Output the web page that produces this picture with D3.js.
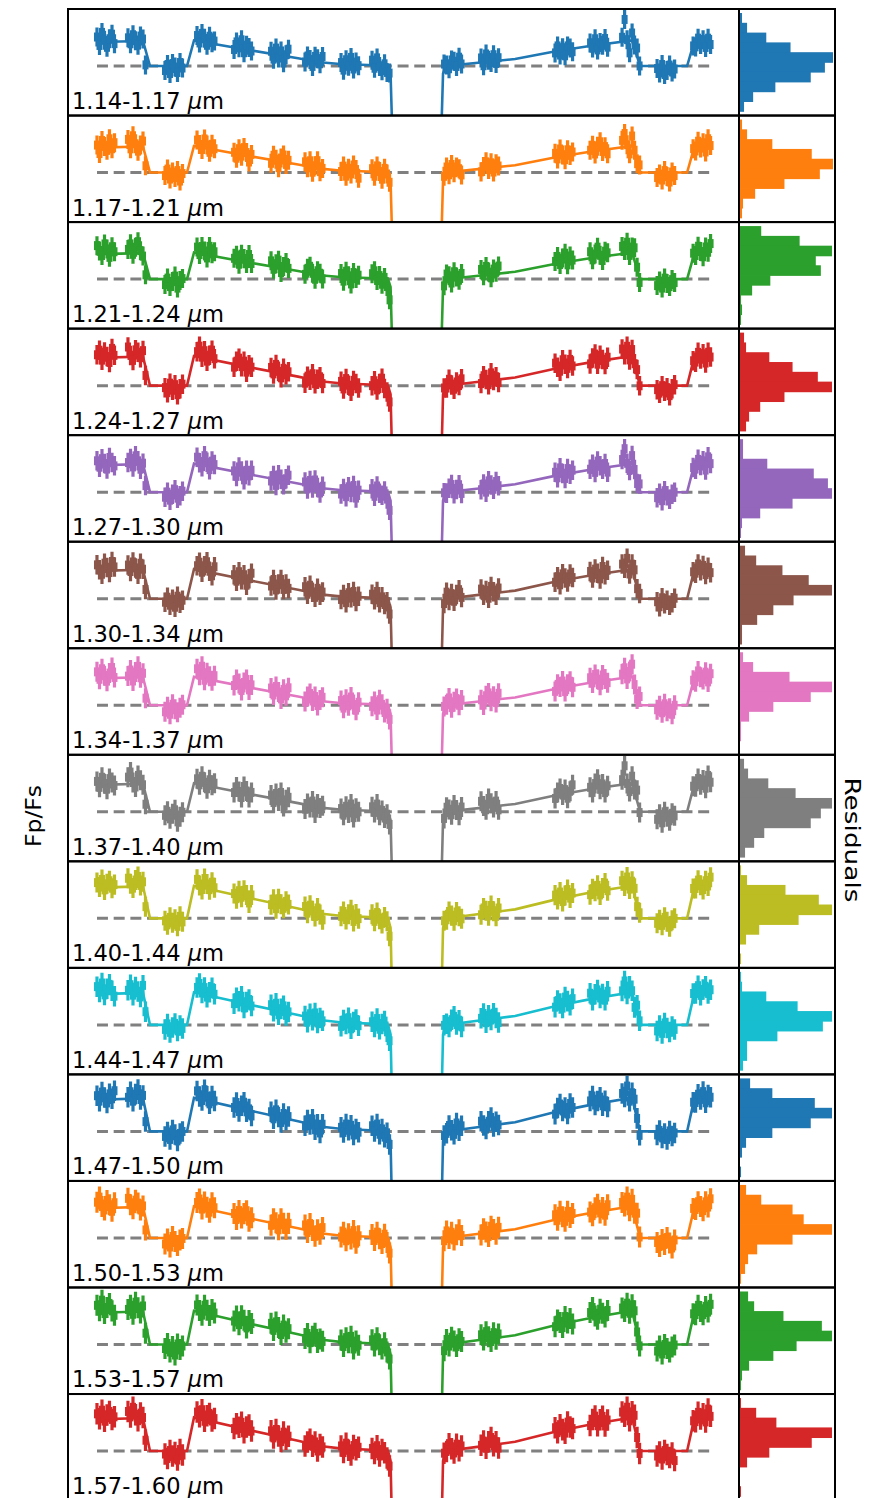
<!DOCTYPE html>
<html>
<head>
<meta charset="utf-8">
<script src="https://d3js.org/d3.v7.min.js"></script>
<style>
  body { margin: 0; background: #fff; }
  text { font-family: "DejaVu Sans", sans-serif; fill: #000; }
</style>
</head>
<body>
<svg id="fig" width="877" height="1498"></svg>
<script>
  // wavelength bins, one row each
  var bands = ["1.14-1.17", "1.17-1.21", "1.21-1.24", "1.24-1.27", "1.27-1.30", "1.30-1.34", "1.34-1.37",
               "1.37-1.40", "1.40-1.44", "1.44-1.47", "1.47-1.50", "1.50-1.53", "1.53-1.57", "1.57-1.60"]
  var colors = ["#1f77b4", "#ff7f0e", "#2ca02c", "#d62728", "#9467bd", "#8c564b", "#e377c2",
                "#7f7f7f", "#bcbd22", "#17becf", "#1f77b4", "#ff7f0e", "#2ca02c", "#d62728"]
  // eclipse depth per row (ppm) and error bar size (ppm)
  var depths = [100, 104, 104, 116, 112, 116, 112, 112, 128, 128, 132, 124, 132, 132]
  var errs   = [38, 38, 38, 39, 39, 39, 40, 40, 40, 41, 41, 42, 42, 43]

  // orbital phase of each exposure (16 visible orbits x 8 exposures)
  var times = [
    0.3558, 0.3609, 0.3659, 0.3710, 0.3760, 0.3810, 0.3861, 0.3911,
    0.4183, 0.4234, 0.4284, 0.4335, 0.4385, 0.4435, 0.4486, 0.4536,
    0.4929, 0.4980, 0.5030, 0.5081, 0.5131, 0.5181, 0.5232, 0.5282,
    0.5575, 0.5625, 0.5675, 0.5726, 0.5776, 0.5827, 0.5877, 0.5927,
    0.6321, 0.6371, 0.6421, 0.6472, 0.6522, 0.6573, 0.6623, 0.6673,
    0.7067, 0.7117, 0.7167, 0.7218, 0.7268, 0.7319, 0.7369, 0.7419,
    0.7752, 0.7802, 0.7853, 0.7903, 0.7954, 0.8004, 0.8054, 0.8105,
    0.8478, 0.8528, 0.8579, 0.8629, 0.8679, 0.8730, 0.8780, 0.8831,
    0.9103, 0.9153, 0.9204, 0.9254, 0.9304, 0.9355, 0.9405, 0.9456,
    1.0554, 1.0605, 1.0655, 1.0706, 1.0756, 1.0806, 1.0857, 1.0907,
    1.1300, 1.1351, 1.1401, 1.1452, 1.1502, 1.1552, 1.1603, 1.1653,
    1.2792, 1.2843, 1.2893, 1.2944, 1.2994, 1.3044, 1.3095, 1.3145,
    1.3498, 1.3548, 1.3599, 1.3649, 1.3700, 1.3750, 1.3800, 1.3851,
    1.4143, 1.4194, 1.4244, 1.4294, 1.4345, 1.4395, 1.4446, 1.4496,
    1.4849, 1.4899, 1.4950, 1.5000, 1.5050, 1.5101, 1.5151, 1.5202,
    1.5575, 1.5625, 1.5675, 1.5726, 1.5776, 1.5827, 1.5877, 1.5927]

  // model knots: phase and planet flux as a fraction of the eclipse depth
  var modelPhase = [0.3558, 0.4486, 0.4627, 0.5373, 0.5514, 0.6643, 0.7611, 0.8054, 0.8458, 0.9163,
                    0.9425, 0.9476, 0.9516, 0.9546, 1.0454, 1.0494, 1.0534, 1.0595, 1.1341, 1.1986,
                    1.2833, 1.3558, 1.4345, 1.4506, 1.5454, 1.5595, 1.5917]
  var modelShape = [0.96, 1.0, 0, 0, 1.02, 0.63, 0.31, 0.15, 0.08, 0.03,
                    0, -0.3, -3, -10, -10, -3, -0.3, 0, 0.15, 0.28,
                    0.6, 0.82, 1.02, 0, 0, 0.96, 1.02]

  // residuals (ppm), same exposure order as times
  var residuals = [
    [20,-14,38,6,-22,12,30,-8, 14,-10,26,2,-16,20,8,-60, -18,6,-30,10,-4,-26,14,-8, 22,-6,34,16,-10,28,4,12, -8,24,2,36,-14,18,10,-2, 10,-20,26,-12,18,-28,6,30, -10,16,4,-22,20,12,-6,24, 6,-24,18,-8,28,-18,10,-4, 20,-12,30,-4,-20,8,-26,-10, 28,4,-12,22,16,-6,30,2, 18,-14,32,6,-4,26,-10,12, -6,20,-18,10,-24,14,4,-12, 12,-10,26,-20,8,-4,22,-14, 18,88,6,-48,30,14,34,-6, -10,-28,6,-34,-18,4,-24,-12, -2,-20,14,-12,6,-26,10,-16],
    [10,-24,28,4,-12,34,-6,18, 30,-8,44,12,-18,6,22,-40, -12,14,-26,2,-20,8,-34,-4, 26,10,-8,36,14,-14,20,4, 4,-18,22,-6,30,12,-24,8, -14,20,6,-26,14,28,-8,10, 16,-6,24,-20,8,30,-12,2, -4,18,-22,10,-12,24,6,-28, 12,-18,24,2,-28,16,-6,-20, 6,22,-10,30,-4,18,10,-16, -12,8,26,-6,20,-18,14,4, 16,-8,30,4,-16,22,-2,10, 6,24,-12,18,34,-6,12,-18, 28,54,8,-30,40,16,-4,24, -20,-6,-30,8,-16,-38,2,-12, 10,-14,24,-4,16,-22,30,2],
    [34,12,-6,40,20,-14,28,8, 16,38,-4,24,46,10,-12,-50, -22,4,-30,-10,12,-36,-6,2, 24,-4,30,14,-12,36,8,18, 6,20,-14,28,12,-6,32,-2, 22,-10,14,30,-18,8,26,4, -8,18,28,2,-20,16,8,-14, 14,-16,24,6,-26,20,-4,10, 18,30,-8,12,-22,6,-30,-64, -6,20,12,-18,26,4,-10,16, 24,-2,34,10,-14,20,6,30, 10,28,-6,18,36,-12,22,4, 26,-8,14,40,6,-16,20,12, 30,12,44,-10,22,52,8,-20, -26,-8,-36,4,-18,-30,-2,-14, 18,-6,30,8,-14,24,2,36],
    [12,30,-10,22,4,-20,36,8, 40,6,-14,28,18,-4,24,-34, -8,-28,10,-18,4,-36,-12,6, 20,44,2,30,-10,16,38,6, -12,14,28,-4,20,-22,10,2, 16,-8,32,6,-18,22,-2,12, -20,10,-4,24,-14,6,18,-8, 8,-22,20,-6,-30,14,2,-16, -4,16,-20,6,28,-12,-26,-44, 14,-10,24,0,-18,10,-6,20, -8,22,6,-16,30,-2,12,-12, 22,4,-14,30,10,-8,26,-2, -6,16,30,-12,22,4,-18,10, 34,10,42,-14,26,6,20,-8, -16,-30,0,-22,-8,-40,-12,4, 4,-18,20,-8,12,-26,16,-4],
    [18,-8,26,6,-16,30,10,-4, 8,24,-10,34,14,-20,4,-46, -20,0,-32,-8,10,-24,-14,4, 28,8,-6,40,16,-12,24,12, 2,-18,22,8,-26,14,-6,18, -10,14,-24,20,4,-16,10,26, 12,-14,22,-6,28,0,-20,8, -16,6,-26,14,-8,20,-30,2, 10,-20,22,-6,-14,4,-28,-52, 20,-4,14,28,-10,6,24,-12, -6,16,-18,26,8,-10,20,2, 14,-10,28,4,-18,20,-4,10, 2,20,-14,30,10,-6,16,-20, 22,64,4,-26,32,12,-8,26, -22,-4,-34,6,-14,-28,-8,0, 6,-16,22,-4,14,-24,28,0],
    [24,4,-14,30,12,-8,36,14, 20,-6,32,8,-18,26,2,-38, -14,6,-26,-2,-34,10,-18,-6, 16,32,-6,22,40,4,-12,26, 10,-14,26,-4,18,-22,6,30, -6,22,-18,8,28,-10,14,-2, 18,-10,28,2,-16,22,-4,10, -12,8,-24,16,-4,22,-18,4, 14,-8,26,-18,6,-24,-12,-40, 4,26,-8,18,-14,12,30,-2, 22,-4,14,-18,28,6,-10,18, -2,18,-16,26,8,-10,20,4, 16,-12,22,4,-20,28,-6,10, 26,8,46,-18,20,34,-4,14, -12,-32,4,-20,-6,-26,-16,2, 12,-10,26,-2,18,-20,8,-14],
    [26,-4,38,10,-12,20,42,2, 6,30,-14,22,44,-2,16,-44, -26,-6,-36,4,-16,-28,-10,2, 34,10,48,-6,26,14,-2,20, -4,22,8,-18,16,30,-10,12, 14,-12,24,4,-22,18,-6,28, -14,8,22,-6,14,-20,4,16, 10,-20,16,-10,26,-4,-26,6, -8,12,-22,20,2,-30,-14,-36, 18,2,28,-12,10,22,-6,14, 6,-16,20,30,-4,14,-12,24, -10,16,4,26,-18,10,20,-6, 20,-2,30,10,-16,24,6,-10, 16,40,-6,22,50,4,-18,28, -18,-2,-30,6,-24,-12,-36,0, 8,-14,28,2,-8,20,-20,12],
    [14,-10,30,4,-18,24,8,-4, 28,48,6,-12,34,14,-4,-42, -14,2,-28,-8,8,-40,-20,-2, 20,-2,34,12,-12,26,6,16, -6,18,2,-20,26,10,-14,8, 12,-16,22,-6,30,-24,4,16, -18,6,-8,20,-26,12,-2,8, 4,-22,14,-12,24,-30,8,-6, 16,-6,28,-16,4,-26,-10,-30, -4,18,8,-14,24,2,-20,12, 26,6,-10,34,14,-4,20,-16, -12,10,24,-4,16,-20,6,30, 8,-14,20,36,-6,14,-22,4, 20,74,2,-32,28,10,44,-10, -30,-10,-44,0,-20,-36,-6,-16, 10,-8,24,-2,16,-18,32,4],
    [20,2,32,-10,14,26,-4,10, 34,12,-6,26,40,4,18,-36, -10,-26,4,-18,-4,-32,8,-14, 28,6,-8,38,18,-2,30,10, 4,-14,20,-4,26,10,-20,14, -8,16,-20,22,2,-12,18,8, 14,-10,24,4,-16,20,-4,-24, -2,18,-14,8,26,-20,10,-8, 12,-16,20,-6,-22,4,-12,-48, 16,-6,26,8,-14,20,2,-10, -4,22,10,-12,28,4,-18,14, 18,-2,26,-14,8,30,-6,12, -8,14,2,24,-16,10,28,-4, 26,4,38,-12,18,30,-2,14, -20,-6,-28,4,-14,-34,-8,0, 14,-4,28,6,-12,22,0,34],
    [30,8,44,-4,20,38,12,-10, 12,34,-8,24,6,-16,30,-30, -18,4,-30,-10,6,-24,-2,-14, 22,40,4,28,-8,14,34,10, -10,16,4,26,-18,8,20,-4, 18,-6,28,-16,10,24,-12,4, 2,-20,16,-8,24,-14,8,-2, -16,10,-6,20,-24,4,14,-10, 8,-12,22,-20,2,14,-28,-40, 24,4,-10,18,30,-4,12,-16, 8,26,-12,16,-4,22,2,-18, -4,20,6,-14,28,10,-8,16, 24,-6,16,32,-2,12,-14,20, 12,50,-4,26,6,-20,30,8, -24,-2,-34,8,-12,-28,-6,-18, 20,2,32,-8,14,26,-4,10],
    [16,-6,30,8,-14,22,2,34, 6,28,-10,18,36,-4,12,-46, -20,-2,-32,6,-12,-38,-8,0, 30,10,-4,42,18,-10,24,6, -2,20,-14,12,28,-8,6,-20, 14,-12,26,0,-20,18,-6,10, -12,14,-2,22,-18,6,-26,10, 6,-14,20,-4,16,-22,2,-10, 18,-4,26,-14,8,-24,-6,-28, 10,-8,22,2,-16,28,-4,14, 22,4,-12,18,32,-6,12,-2, -8,14,28,-2,10,-18,22,4, 16,34,-4,10,24,-12,6,-20, 24,8,50,-12,20,36,2,-24, -14,4,-26,-8,-32,2,-18,-6, 8,-12,20,-2,28,-18,12,2],
    [24,44,6,-8,30,12,-14,20, 36,10,-6,28,16,-12,4,-48, -24,-4,-36,6,-14,-30,-8,-2, 18,34,-4,26,8,-10,30,12, 6,-16,22,-6,14,28,-12,4, -10,18,4,-22,24,8,-14,12, 20,-8,30,4,-16,12,-4,24, -6,14,-20,8,-12,22,-28,2, 10,-14,20,-6,-24,14,-18,-38, 14,28,-4,20,-12,8,26,2, -6,18,4,-16,24,10,-10,16, 20,-4,30,6,-14,24,-2,12, 4,-12,18,30,-6,14,-18,22, 22,6,40,-16,28,12,52,-4, -18,-34,-6,-26,2,-20,-40,-8, 16,-6,24,4,-14,20,-2,30],
    [30,8,50,-4,20,36,6,-12, 10,26,-10,38,16,-6,22,-40, -16,4,-30,-8,-42,2,-20,-6, 26,6,-10,32,14,-4,22,10, -4,18,-14,24,8,-20,12,2, 20,-6,30,10,-16,24,-2,14, -10,12,-22,6,20,-14,2,-6, 8,-18,18,-2,24,-26,6,-10, 14,-10,24,-4,-20,6,-30,-34, 2,20,-8,26,10,-14,16,4, 20,-2,30,8,-12,22,-6,14, -6,18,6,-16,26,-2,14,-10, 22,40,4,-10,28,10,-6,18, 18,2,34,-8,24,42,0,-14, -26,-6,-38,0,-16,-30,-10,-2, 14,-8,28,2,-12,20,-4,26],
    [22,2,36,-8,16,30,-2,8, 28,6,44,14,-10,20,2,-42, -12,-30,2,-20,-6,-36,6,-16, 24,8,38,-6,18,30,2,14, -8,14,2,24,-16,10,20,-2, 16,-10,26,2,-18,22,-4,10, -14,4,18,-8,12,-22,6,-2, 10,-16,22,-6,-24,14,-2,8, 6,-14,18,-22,4,-8,-28,-36, 18,-2,28,6,-12,22,-6,12, 4,20,-10,14,30,-4,10,-16, 16,-6,24,2,-14,28,6,-2, -4,18,30,-10,12,24,-16,6, 28,10,44,-12,22,50,4,-18, -20,-4,-32,2,-14,-26,-8,-38, 12,-10,26,-2,18,-16,34,4]
  ]

  // residual histograms, 10 bins from high to low residual
  var histCounts = [
    [2, 7, 26, 50, 92, 84, 70, 35, 13, 4],
    [2, 7, 32, 71, 92, 79, 44, 15, 3, 2],
    [21, 59, 91, 75, 80, 30, 12, 1, 2, 1],
    [4, 6, 29, 52, 77, 91, 44, 20, 9, 6],
    [3, 3, 27, 73, 87, 91, 52, 20, 2, 1],
    [5, 16, 42, 68, 91, 53, 33, 17, 2, 2],
    [3, 13, 49, 91, 70, 33, 9, 1, 1, 0],
    [4, 8, 28, 55, 91, 80, 70, 24, 14, 5],
    [1, 7, 45, 78, 91, 58, 19, 6, 0, 1],
    [1, 2, 26, 57, 91, 82, 37, 7, 7, 3],
    [10, 32, 74, 91, 70, 32, 6, 2, 0, 1],
    [6, 21, 52, 63, 91, 52, 17, 8, 5, 1],
    [8, 14, 43, 81, 91, 56, 33, 9, 2, 1],
    [1, 16, 36, 91, 71, 29, 7, 0, 0, 1]
  ]

  var svg = d3.select('#fig')
  var left = 68, right = 739, histRight = 835, top0 = 9, rowH = 106.54

  var x = d3.scaleLinear().domain([0.2974, 1.650]).range([left, right])
  var y = d3.scaleLinear().domain([-198, 228]).range([rowH, 0])
  var hx = d3.scaleLinear().domain([0, 94]).range([right + 1, histRight])
  var hy = d3.scaleLinear().domain([0, 10]).range([4, 102])

  // model value at an exposure: straight segment between the two knots around it
  function shapeAt(t) {
    var j = d3.bisectRight(modelPhase, t)
    if (j <= 0) return modelShape[0]
    if (j >= modelPhase.length) return modelShape[modelShape.length - 1]
    var t0 = modelPhase[j-1], t1 = modelPhase[j]
    var f = (t - t0) / (t1 - t0)
    return modelShape[j-1] + f * (modelShape[j] - modelShape[j-1])
  }

  bands.forEach(function(band, i) {
    var col = colors[i]
    var depth = depths[i]
    var g = svg.append('g').attr('transform', 'translate(0,' + (top0 + i*rowH) + ')')

    g.append('clipPath').attr('id', 'clip' + i)
      .append('rect').attr('x', left).attr('y', 0)
      .attr('width', right - left).attr('height', rowH)
    var plot = g.append('g').attr('clip-path', 'url(#clip' + i + ')')

    // star-only level
    plot.append('line')
      .attr('x1', x(times[0])).attr('x2', x(times[times.length-1]))
      .attr('y1', y(0)).attr('y2', y(0))
      .attr('stroke', '#808080').attr('stroke-width', 3)
      .attr('stroke-dasharray', '11 5.7')

    // best fit model
    var line = d3.line()
      .x(function(d, k) { return x(modelPhase[k]) })
      .y(function(d) { return y(d * depth) })
    plot.append('path')
      .attr('d', line(modelShape))
      .attr('fill', 'none').attr('stroke', col).attr('stroke-width', 2.6)

    // data with error bars
    var err = errs[i]
    var pts = plot.selectAll('g.pt')
      .data(residuals[i])
      .enter().append('g')
      .attr('class', 'pt')
    pts.append('line')
      .attr('x1', function(d, k) { return x(times[k]) })
      .attr('x2', function(d, k) { return x(times[k]) })
      .attr('y1', function(d, k) { return y(shapeAt(times[k]) * depth + d + err) })
      .attr('y2', function(d, k) { return y(shapeAt(times[k]) * depth + d - err) })
      .attr('stroke', col).attr('stroke-width', 3.2)
    pts.append('rect')
      .attr('x', function(d, k) { return x(times[k]) - 3 })
      .attr('y', function(d, k) { return y(shapeAt(times[k]) * depth + d) - 4.5 })
      .attr('width', 6).attr('height', 9)
      .attr('fill', col)

    g.append('text')
      .attr('x', 72).attr('y', 100)
      .attr('font-size', 23)
      .attr('textLength', 152).attr('lengthAdjust', 'spacingAndGlyphs')
      .text(band + ' ')
      .append('tspan').attr('font-style', 'italic').text('\u03bc')
      .select(function() { return this.parentNode })
      .append('tspan').text('m')

    // histogram of residuals
    g.selectAll('rect.bin')
      .data(histCounts[i])
      .enter().append('rect')
      .attr('class', 'bin')
      .attr('x', hx(0))
      .attr('y', function(d, k) { return hy(k) })
      .attr('width', function(d) { return hx(d) - hx(0) })
      .attr('height', hy(1) - hy(0) + 0.8)
      .attr('fill', col)

    // frames
    g.append('rect').attr('x', left).attr('y', 0)
      .attr('width', right - left).attr('height', rowH)
      .attr('fill', 'none').attr('stroke', '#000').attr('stroke-width', 2)
    g.append('rect').attr('x', right).attr('y', 0)
      .attr('width', histRight - right).attr('height', rowH)
      .attr('fill', 'none').attr('stroke', '#000').attr('stroke-width', 2)
  })

  svg.append('text')
    .attr('transform', 'translate(41,816) rotate(-90) scale(1,0.85)')
    .attr('text-anchor', 'middle').attr('font-size', 24)
    .attr('textLength', 62).attr('lengthAdjust', 'spacingAndGlyphs')
    .text('Fp/Fs')

  svg.append('text')
    .attr('transform', 'translate(845,840) rotate(90) scale(1,0.85)')
    .attr('text-anchor', 'middle').attr('font-size', 25)
    .attr('textLength', 125).attr('lengthAdjust', 'spacingAndGlyphs')
    .text('Residuals')
</script>
</body>
</html>
